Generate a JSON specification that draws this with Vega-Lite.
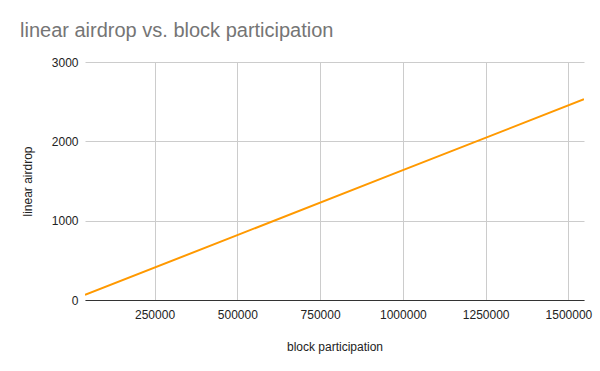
{
  "$schema": "https://vega.github.io/schema/vega-lite/v6.json",
  "autosize": "none",
  "width": 499,
  "height": 238,
  "padding": {"left": 85, "top": 62, "right": 16, "bottom": 71},
  "background": "white",
  "title": {
    "text": "linear airdrop vs. block participation",
    "anchor": "start",
    "frame": "group",
    "dx": -65,
    "offset": 15,
    "fontSize": 20,
    "font": "Liberation Sans",
    "fontWeight": "normal",
    "color": "#757575"
  },
  "data": {
    "values": [
      {"block participation": 40000, "linear airdrop": 64},
      {"block participation": 500000, "linear airdrop": 818},
      {"block participation": 1000000, "linear airdrop": 1637},
      {"block participation": 1547000, "linear airdrop": 2530}
    ]
  },
  "mark": {"type": "line", "color": "#FF9900", "strokeWidth": 2, "clip": true},
  "encoding": {
    "x": {
      "field": "block participation",
      "type": "quantitative",
      "scale": {"domain": [40000, 1547000], "nice": false, "zero": false},
      "axis": {
        "values": [250000, 500000, 750000, 1000000, 1250000, 1500000],
        "format": "d",
        "title": "block participation",
        "titlePadding": 21,
        "titleFontSize": 12,
        "titleFontWeight": "normal",
        "titleColor": "#222222",
        "titleFont": "Liberation Sans",
        "labelFont": "Liberation Sans",
        "labelFontSize": 12,
        "labelColor": "#222222",
        "labelPadding": 9,
        "ticks": false,
        "domainColor": "#333333",
        "domainWidth": 1,
        "gridColor": "#cccccc",
        "labelFlush": false
      }
    },
    "y": {
      "field": "linear airdrop",
      "type": "quantitative",
      "scale": {"domain": [0, 3000], "nice": false},
      "axis": {
        "values": [0, 1000, 2000, 3000],
        "format": "d",
        "title": "linear airdrop",
        "titlePadding": 17,
        "titleFontSize": 12,
        "titleFontWeight": "normal",
        "titleColor": "#222222",
        "titleFont": "Liberation Sans",
        "labelFont": "Liberation Sans",
        "labelFontSize": 12,
        "labelColor": "#222222",
        "labelPadding": 7,
        "ticks": false,
        "domain": false,
        "gridColor": "#cccccc"
      }
    }
  },
  "config": {"view": {"stroke": null}}
}
